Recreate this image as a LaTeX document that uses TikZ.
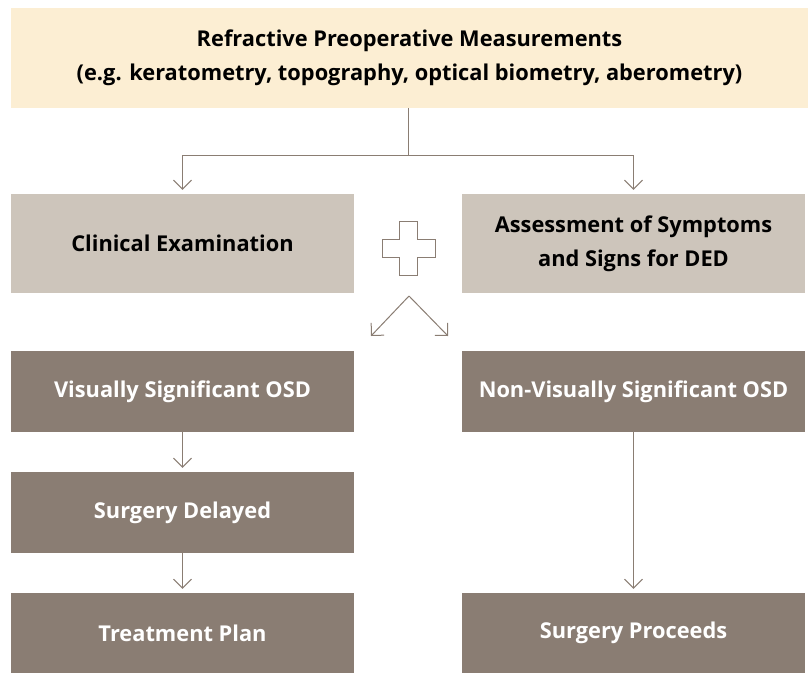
\documentclass[tikz,border=0pt]{standalone}
\usepackage{fontspec}
\setmainfont{Open Sans}[Ligatures=NoCommon]
\usetikzlibrary{arrows.meta}
\definecolor{cream}{HTML}{FCEED3}
\definecolor{lightgray}{HTML}{CDC5BB}
\definecolor{darkbrown}{HTML}{8A7D73}
\definecolor{linecol}{HTML}{8A7D73}
\tikzset{
  box/.style={inner sep=0pt, align=center, font=\fontsize{21.8}{34}\selectfont\bfseries},
  topbox/.style={box, fill=cream, text=black, minimum width=797pt, minimum height=100pt},
  graybox/.style={box, fill=lightgray, text=black, minimum width=343pt, minimum height=99pt},
  darkbox/.style={box, fill=darkbrown, text=white, minimum width=343pt, minimum height=81pt},
  conn/.style={draw=linecol, line width=1pt},
  arr/.style={conn, -{Straight Barb[length=9pt,width=18pt,line width=1pt]}},
}
\begin{document}
\begin{tikzpicture}[x=1pt,y=-1pt]
\useasboundingbox (0,0) rectangle (808,673);
\node[topbox] (top) at (409.5,58) {Refractive Preoperative Measurements\\(e.g. keratometry, topography, optical biometry, aberometry)};
\node[graybox] (ce) at (182.5,243.5) {Clinical Examination};
\node[graybox] (ass) at (633.5,243.5) {Assessment of Symptoms\\and Signs for DED};
\node[darkbox] (vis) at (182.5,391.5) {Visually Significant OSD};
\node[darkbox] (nvis) at (633.5,391.5) {Non-Visually Significant OSD};
\node[darkbox] (delay) at (182.5,512.5) {Surgery Delayed};
\node[darkbox, minimum height=80pt] (treat) at (182.5,633) {Treatment Plan};
\node[darkbox, minimum height=80pt] (proc) at (633.5,633) {Surgery Proceeds};
% split connector
\coordinate (split) at (408,155);
\draw[conn] (top.south -| split) -- (split);
\draw[arr] (split) -| ([yshift=4pt]ce.north);
\draw[arr] (split) -| ([yshift=4pt]ass.north);
% plus sign
\draw[conn] (399,221) -- (417,221) -- (417,239) -- (435,239) -- (435,257) -- (417,257) -- (417,275) -- (399,275) -- (399,257) -- (382,257) -- (382,239) -- (399,239) -- cycle;
% diverging arrows
\coordinate (apex) at (409,296);
\coordinate (dl) at (371,336);
\coordinate (dr) at (448,336);
\draw[arr] (apex) -- (dl);
\draw[arr] (apex) -- (dr);
% vertical arrows
\draw[arr] (vis.south) -- ([yshift=4pt]delay.north);
\draw[arr] (delay.south) -- ([yshift=4pt]treat.north);
\draw[arr] (nvis.south) -- ([yshift=4pt]proc.north);
\end{tikzpicture}
\end{document}
